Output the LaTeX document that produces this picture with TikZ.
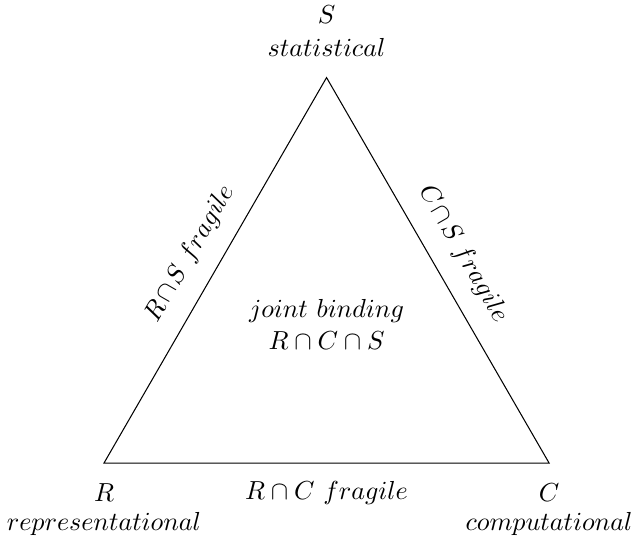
\documentclass[tikz,border=0pt]{standalone}
\begin{document}
\begin{tikzpicture}
\useasboundingbox (-1.402,-1.038) rectangle (7.131,6.242);
\tikzset{lbl/.style={inner sep=0pt}}
\coordinate (R) at (0,0);
\coordinate (C) at (6,0);
\coordinate (S) at (3,5.196);
\draw (R) -- (C) -- (S) -- cycle;
\node[lbl] (Sl) at (3,6.04) {$S$};
\node[lbl] (Sn) at (3,5.60) {$statistical$};
\node[lbl] (Rl) at (0,-0.404) {$R$};
\node[lbl] (Rn) at (0,-0.822) {$representational$};
\node[lbl] (Cl) at (6,-0.404) {$C$};
\node[lbl] (Cn) at (6,-0.822) {$computational$};
\node[lbl] (RC) at (3,-0.404) {$R\cap C\ fragile$};
\node[lbl] (J1) at (3,2.05) {$joint\ binding$};
\node[lbl] (J2) at (3,1.645) {$R\cap C\cap S$};
\node[lbl,rotate=60] (RS) at (1.16,2.82) {$R\mskip2mu{\cap}\mskip2mu S\ fragile$};
\node[lbl,rotate=-60] (CS) at (4.84,2.82) {$C\mskip2mu{\cap}\mskip2mu S\ fragile$};
\end{tikzpicture}
\end{document}
